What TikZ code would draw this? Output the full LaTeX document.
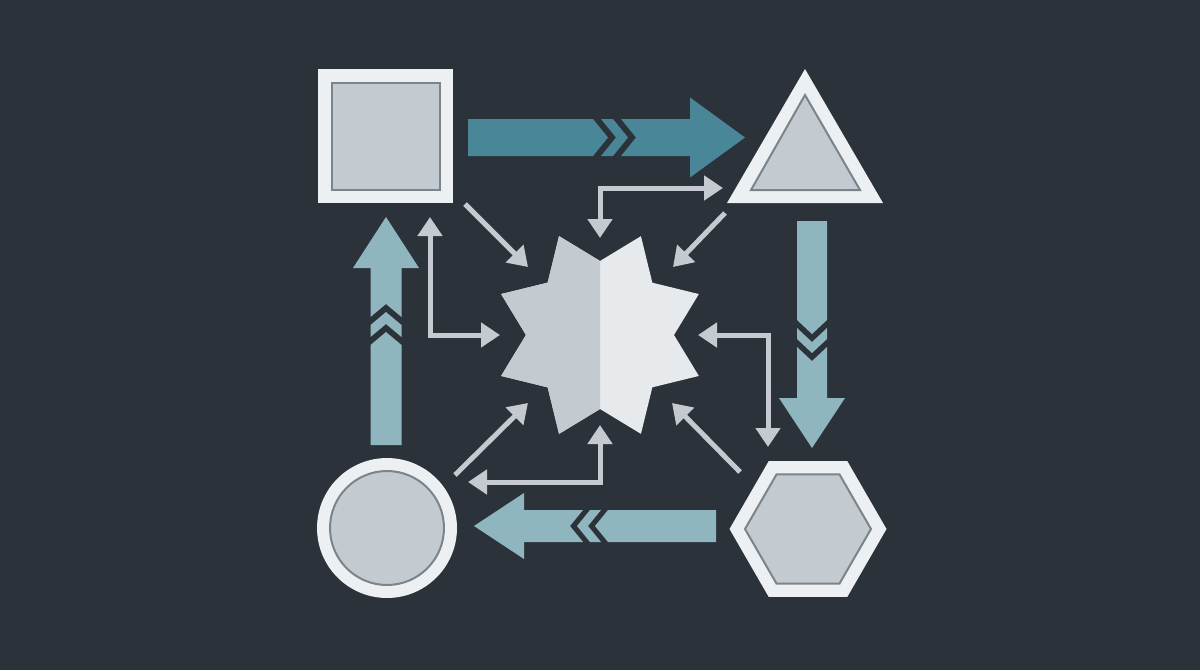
\documentclass[tikz,border=0pt]{standalone}
\usetikzlibrary{arrows.meta}
\definecolor{bgdark}{RGB}{43,50,58}
\definecolor{shapewhite}{RGB}{236,240,243}
\definecolor{shapegray}{RGB}{195,202,208}
\definecolor{shapeedge}{RGB}{124,132,139}
\definecolor{tealdark}{RGB}{73,134,151}
\definecolor{teallight}{RGB}{143,182,190}
\definecolor{linkgray}{RGB}{196,202,208}
\definecolor{starlight}{RGB}{230,234,237}
\begin{document}
\begin{tikzpicture}[x=0.02cm,y=-0.02cm,
    outershape/.style={fill=shapewhite},
    innershape/.style={fill=shapegray,draw=shapeedge,line width=0.04cm},
    link/.style={draw=linkgray,line width=0.1cm},
    >={Triangle[length=0.38cm,width=0.48cm]}]

    % background and page size
    \fill[bgdark] (0,0) rectangle (1200,670);

    \coordinate (star) at (600,335);
    \coordinate (circ) at (387,528);
    \coordinate (hex) at (808,529);

    % square
    \fill[outershape] (318,69) rectangle (453,203);
    \draw[innershape] (332,83) rectangle (440,190);

    % triangle
    \fill[outershape] (805,69) -- (883,203) -- (727,203) -- cycle;
    \draw[innershape] (805,95) -- (860,190) -- (751,190) -- cycle;

    % circle
    \fill[outershape] (circ) circle (1.4cm);
    \draw[innershape] (circ) circle (1.14cm);

    % hexagon
    \fill[outershape,shift={(hex)}] (0:78.5) \foreach \k in {1,...,5}{ -- (60*\k:78.5)} -- cycle;
    \draw[innershape,shift={(hex)}] (0:63) \foreach \k in {1,...,5}{ -- (60*\k:63)} -- cycle;

    % star, light half then shaded half
    \fill[starlight,shift={(star)}] (22.5:107)
        \foreach \k in {1,...,15}{ -- ({22.5+22.5*\k}:{90.5+16.5*cos(180*\k)})} -- cycle;
    \fill[shapegray,shift={(star)}] (90:74)
        \foreach \k in {4,...,11}{ -- ({22.5+22.5*\k}:{90.5+16.5*cos(180*\k)})} -- cycle;

    % big chevron arrows: tail point, rotation, half width, tail length,
    % chevron depth, gap, band, length, head length, head half width
    \foreach \sx/\sy/\rot/\hw/\tail/\cd/\gp/\bw/\len/\hlen/\hh/\col in {
        468/137.5/0/18.5/125/15/8/12/277/55/40/tealdark,
        812/221/-90/15/99/14/8/11/227/50/33/teallight,
        716/526/180/16/108/13/7/11/242/50/33/teallight,
        386/445/90/15.5/100/13/8/12/228/51/33/teallight}{
        \begin{scope}[shift={(\sx,\sy)},rotate=\rot]
            \fill[\col] (0,-\hw) -- (\tail,-\hw) -- (\tail+\cd,0) -- (\tail,\hw) -- (0,\hw) -- cycle;
            \fill[\col] (\tail+\gp,-\hw) -- (\tail+\gp+\bw,-\hw) -- (\tail+\gp+\bw+\cd,0)
                -- (\tail+\gp+\bw,\hw) -- (\tail+\gp,\hw) -- (\tail+\gp+\cd,0) -- cycle;
            \fill[\col] (\tail+2*\gp+\bw,-\hw) -- (\len-\hlen,-\hw) -- (\len-\hlen,-\hh) -- (\len,0)
                -- (\len-\hlen,\hh) -- (\len-\hlen,\hw) -- (\tail+2*\gp+\bw,\hw)
                -- (\tail+2*\gp+\bw+\cd,0) -- cycle;
        \end{scope}
    }

    % ends of the thin links
    \coordinate (sqcorner) at (465,204);
    \coordinate (sqbelow) at (430,217);
    \coordinate (tricorner) at (725,213);
    \coordinate (trileft) at (723,188);
    \coordinate (circcorner) at (455,475);
    \coordinate (circright) at (468,482);
    \coordinate (hexcorner) at (740,472);
    \coordinate (hexabove) at (768,447);
    \coordinate (starnw) at (528,267);
    \coordinate (starne) at (673,267);
    \coordinate (starsw) at (528,403);
    \coordinate (starse) at (672,403);
    \coordinate (startop) at (600,238);
    \coordinate (starbottom) at (600,425);
    \coordinate (starwest) at (500,335);
    \coordinate (stareast) at (698,335);

    \draw[link,->] (sqcorner) -- (starnw);
    \draw[link,->] (tricorner) -- (starne);
    \draw[link,->] (circcorner) -- (starsw);
    \draw[link,->] (hexcorner) -- (starse);
    \draw[link,<->] (startop) |- (trileft);
    \draw[link,<->] (sqbelow) |- (starwest);
    \draw[link,<->] (stareast) -| (hexabove);
    \draw[link,<->] (starbottom) |- (circright);
\end{tikzpicture}
\end{document}
